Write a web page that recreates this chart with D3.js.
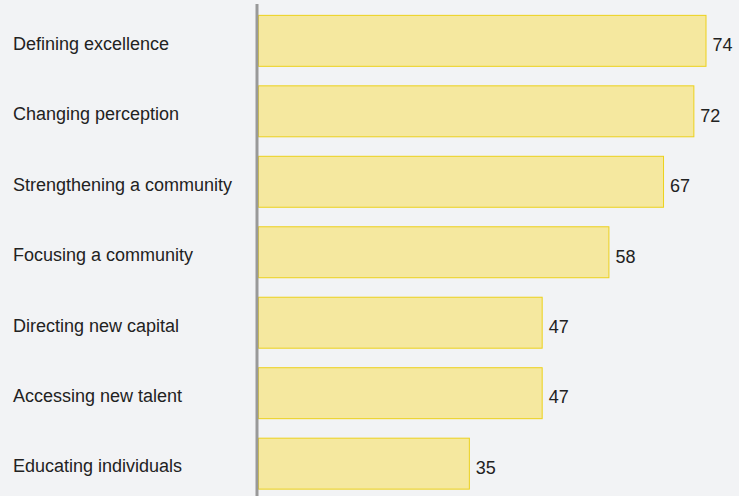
<!DOCTYPE html>
<html>
<head>
<meta charset="utf-8">
<script src="https://cdn.jsdelivr.net/npm/d3@7"></script>
<style>
  body { margin: 0; background: #f2f3f5; }
  svg { display: block; }
  .label, .value { font-family: "Liberation Sans", Arial, sans-serif; font-size: 18px; fill: #222; }
</style>
</head>
<body>
<div id="chart"></div>
<script>
// data
const categories = ["Defining excellence", "Changing perception", "Strengthening a community",
    "Focusing a community", "Directing new capital", "Accessing new talent", "Educating individuals"];
const values = [74, 72, 67, 58, 47, 47, 35];

const width = 739, height = 496;
const axisX = 257;

const svg = d3.select("#chart").append("svg")
    .attr("width", width)
    .attr("height", height);

svg.append("rect")
    .attr("width", width)
    .attr("height", height)
    .attr("fill", "#f2f3f5");

// x scale: 74 ends at ~706px
const x = d3.scaleLinear()
    .domain([0, 74])
    .range([axisX, 706]);

const y = d3.scaleBand()
    .domain(categories)
    .range([5, 498.5])
    .paddingInner(0.277)
    .paddingOuter(0.14);

// bars
svg.selectAll(".bar")
    .data(values)
    .enter().append("rect")
    .attr("class", "bar")
    .attr("x", x(0) + 1.5)
    .attr("y", (d, i) => y(categories[i]) + 0.5)
    .attr("width", d => x(d) - x(0) - 1.5)
    .attr("height", y.bandwidth())
    .attr("fill", "#f5e89f")
    .attr("stroke", "#ecd11c")
    .attr("stroke-width", 1);

// category labels
svg.selectAll(".label")
    .data(categories)
    .enter().append("text")
    .attr("class", "label")
    .attr("x", 13)
    .attr("y", d => y(d) + y.bandwidth() / 2 + 3)
    .attr("dy", "0.35em")
    .text(d => d);

// value labels, sitting a bit below the bar middle
svg.selectAll(".value")
    .data(values)
    .enter().append("text")
    .attr("class", "value")
    .attr("x", d => x(d) + 6.5)
    .attr("y", (d, i) => y(categories[i]) + y.bandwidth() / 2 + 4.5)
    .attr("dy", "0.35em")
    .text(d => d);

// vertical axis line
svg.append("line")
    .attr("x1", axisX)
    .attr("x2", axisX)
    .attr("y1", 4)
    .attr("y2", height)
    .attr("stroke", "#999")
    .attr("stroke-width", 3);
</script>
</body>
</html>
